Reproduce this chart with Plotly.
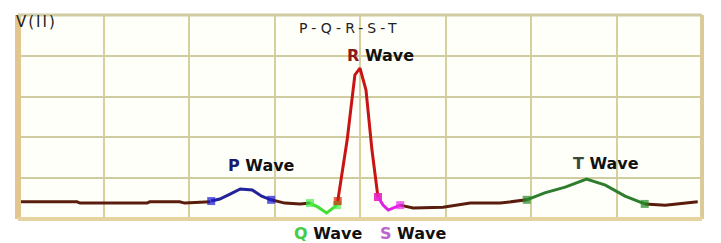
import plotly.graph_objects as go

# x in ms-like units (each grid column = 100), y in grid units (each row = 1)
base1_x = [0, 69, 72.5, 151, 154, 189, 195, 225]
base1_y = [0.42, 0.42, 0.39, 0.39, 0.42, 0.42, 0.39, 0.42]
p_x = [226, 236, 248, 260, 274, 285, 296]
p_y = [0.44, 0.49, 0.61, 0.735, 0.71, 0.56, 0.47]
base2_x = [296, 312, 330, 342]
base2_y = [0.47, 0.39, 0.37, 0.39]
q_x = [341.5, 351, 361, 373]
q_y = [0.39, 0.29, 0.15, 0.34]
r_x = [374, 385, 394, 400, 407, 414, 421]
r_y = [0.44, 1.94, 3.53, 3.70, 3.16, 1.69, 0.54]
s_x = [421, 427, 433, 441, 447]
s_y = [0.54, 0.34, 0.22, 0.29, 0.34]
base3_x = [447, 462, 497, 529, 564, 595]
base3_y = [0.34, 0.27, 0.29, 0.39, 0.39, 0.47]
t_x = [595, 616, 640, 665, 687, 710, 733]
t_y = [0.47, 0.64, 0.78, 0.98, 0.83, 0.56, 0.37]
base4_x = [733, 757, 795]
base4_y = [0.37, 0.34, 0.42]

x_ticks = [0, 100, 200, 300, 400, 500, 600, 700, 800]
y_ticks = [0, 1, 2, 3, 4, 5]

BASE = "#5a1c0c"
fig = go.Figure()

def seg(x, y, color, mcolor=None, ends=True):
    sizes = [0] * len(x)
    if ends:
        sizes[0] = 8
        sizes[-1] = 8
    fig.add_trace(go.Scatter(
        x=x, y=y, mode="lines+markers",
        line=dict(color=color, width=3, shape="linear"),
        marker=dict(symbol="square", size=sizes, color=mcolor or color, line=dict(width=0)),
        showlegend=False, hoverinfo="skip"))

for bx, by in [(base1_x, base1_y), (base2_x, base2_y), (base3_x, base3_y), (base4_x, base4_y)]:
    seg(bx, by, BASE, ends=False)

seg(p_x, p_y, "#22229a", "#1a1ad0")
seg(q_x, q_y, "#44dd33", "#44ee44")
seg(r_x, r_y, "#c81414", "#cc2200")
seg(s_x, s_y, "#e020e0", "#ee22ee")
seg(t_x, t_y, "#2e7d2e", "#228822")

# page body has an 8px margin, so size/margins are compensated for it
fig.update_layout(
    width=713, height=235,
    margin=dict(l=10, r=19, t=7, b=24),
    paper_bgcolor="white",
    plot_bgcolor="#fffffa",
    xaxis=dict(range=[0, 800], tickvals=x_ticks, showticklabels=False,
               showgrid=True, gridcolor="#d6cf9e", gridwidth=2, zeroline=False,
               showline=False, fixedrange=True),
    yaxis=dict(range=[0, 5], tickvals=y_ticks, showticklabels=False,
               showgrid=True, gridcolor="#cfcca0", gridwidth=2, zeroline=False,
               showline=False, fixedrange=True),
    font=dict(family="DejaVu Sans", color="#111"),
)

# border
fig.add_shape(type="line", xref="paper", yref="paper", x0=0, x1=0, y0=0, y1=1,
              line=dict(color="#e2c690", width=6))
fig.add_shape(type="line", xref="paper", yref="paper", x0=1, x1=1, y0=0, y1=1,
              line=dict(color="#dccb98", width=4))
fig.add_shape(type="line", xref="paper", yref="paper", x0=0, x1=1, y0=0, y1=0,
              line=dict(color="#e6d4a0", width=4))
fig.add_shape(type="line", xref="paper", yref="paper", x0=0, x1=1, y0=1, y1=1,
              line=dict(color="#cfcca4", width=3))

bold = dict(family="DejaVu Sans", size=16, color="#111")

def label(x, y, letter, lcolor, yshift=0):
    fig.add_annotation(x=x, y=y, xref="x", yref="y", showarrow=False,
                       text=f"<b><span style='color:{lcolor}'>{letter}</span> Wave</b>",
                       font=bold, yshift=yshift)

label(285, 1.32, "P", "#1a1a6e")
label(424, 4.0, "R", "#8b1a1a")
label(688, 1.35, "T", "#3a4a3a")
label(362, 0, "Q", "#44cc44", yshift=-14)
label(462, 0, "S", "#bb66cc", yshift=-14)

fig.add_annotation(x=0.4855, y=1.0, xref="paper", yref="paper", yanchor="top", yshift=-3,
                   showarrow=False,
                   text="<span style='letter-spacing:4px'>P-Q-R-S-T</span>",
                   font=dict(family="DejaVu Sans", size=14, color="#222"))
fig.add_annotation(x=-0.006, y=1.0, xref="paper", yref="paper", xanchor="left", yanchor="top",
                   yshift=4, showarrow=False,
                   text="<span style='letter-spacing:2px'>V(II)</span>",
                   font=dict(family="DejaVu Sans", size=15, color="#222"))

fig.write_html("out.html")
